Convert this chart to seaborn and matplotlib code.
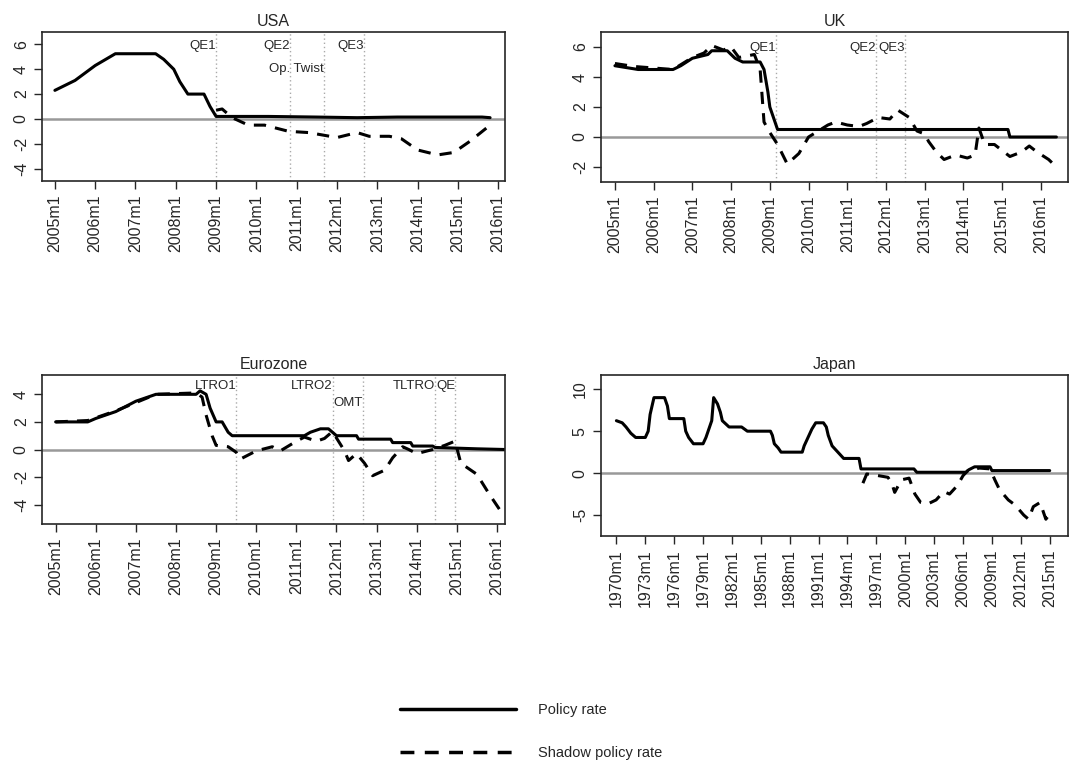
import matplotlib
matplotlib.use("Agg")
import matplotlib.pyplot as plt
import seaborn as sns
from matplotlib.lines import Line2D

# USA
usa_pol_t = [2005.0, 2005.5, 2006.0, 2006.5, 2007.0, 2007.5, 2007.7, 2007.95, 2008.1, 2008.3, 2008.7, 2008.85, 2009.0, 2010.3, 2011.5, 2012.5, 2013.5, 2015.6, 2015.8]
usa_pol_v = [2.3, 3.1, 4.3, 5.25, 5.25, 5.25, 4.8, 4.0, 3.0, 2.0, 2.0, 1.0, 0.2, 0.2, 0.15, 0.1, 0.15, 0.15, 0.1]
usa_sh_t = [2009.0, 2009.15, 2009.4, 2009.8, 2010.2, 2010.8, 2011.3, 2012.0, 2012.5, 2012.8, 2013.3, 2013.6, 2014.0, 2014.5, 2014.9, 2015.3, 2015.8]
usa_sh_v = [0.7, 0.8, 0.1, -0.5, -0.5, -1.0, -1.1, -1.5, -1.1, -1.4, -1.4, -1.6, -2.5, -2.9, -2.7, -1.8, -0.5]
usa_ev = [("QE1", 2009.0, 5.9), ("QE2", 2010.83, 5.9), ("Op. Twist", 2011.68, 4.0), ("QE3", 2012.67, 5.9)]

# UK
uk_pol_t = [2005.0, 2005.6, 2006.5, 2006.7, 2007.0, 2007.4, 2007.5, 2007.9, 2008.0, 2008.1, 2008.3, 2008.75, 2008.85, 2008.95, 2009.0, 2009.2, 2015.15, 2015.2, 2016.4]
uk_pol_v = [4.75, 4.5, 4.5, 4.75, 5.25, 5.5, 5.75, 5.75, 5.5, 5.25, 5.0, 5.0, 4.5, 3.0, 2.0, 0.5, 0.5, 0.0, 0.0]
uk_sh_t = [2005.0, 2005.5, 2006.5, 2007.0, 2007.3, 2007.5, 2007.8, 2008.0, 2008.2, 2008.6, 2008.75, 2008.85, 2009.0, 2009.2, 2009.45, 2009.75, 2010.0, 2010.5, 2010.7, 2011.0, 2011.3, 2011.5, 2011.8, 2012.1, 2012.3, 2012.6, 2012.8, 2013.0, 2013.1, 2013.3, 2013.5, 2013.8, 2014.1, 2014.3, 2014.4, 2014.55, 2014.8, 2015.2, 2015.5, 2015.7, 2015.9, 2016.2, 2016.4]
uk_sh_v = [4.9, 4.7, 4.5, 5.3, 5.6, 6.1, 5.8, 6.0, 5.3, 5.5, 4.5, 1.0, 0.3, -0.5, -1.8, -1.1, 0.0, 0.8, 1.0, 0.8, 0.7, 0.9, 1.3, 1.2, 1.8, 1.3, 0.4, 0.2, -0.3, -1.0, -1.5, -1.2, -1.4, -1.2, 0.6, -0.5, -0.5, -1.3, -1.0, -0.6, -1.0, -1.5, -2.0]
uk_ev = [("QE1", 2009.16, 5.9), ("QE2", 2011.73, 5.9), ("QE3", 2012.49, 5.9)]

# Eurozone
eu_pol_t = [2005.0, 2005.8, 2006.0, 2006.5, 2007.0, 2007.5, 2008.5, 2008.6, 2008.75, 2008.85, 2009.0, 2009.15, 2009.3, 2009.4, 2011.2, 2011.35, 2011.6, 2011.8, 2011.9, 2012.0, 2012.5, 2012.55, 2013.35, 2013.4, 2013.85, 2013.9, 2014.4, 2014.45, 2015.5, 2016.2]
eu_pol_v = [2.0, 2.0, 2.25, 2.75, 3.5, 4.0, 4.0, 4.25, 4.0, 3.0, 2.0, 2.0, 1.25, 1.0, 1.0, 1.25, 1.5, 1.5, 1.25, 1.0, 1.0, 0.75, 0.75, 0.5, 0.5, 0.25, 0.25, 0.15, 0.05, 0.0]
eu_sh_t = [2005.0, 2005.8, 2006.0, 2006.5, 2007.0, 2007.5, 2008.5, 2008.65, 2008.75, 2008.9, 2009.0, 2009.3, 2009.5, 2009.6, 2010.0, 2010.4, 2010.6, 2011.0, 2011.2, 2011.5, 2011.7, 2011.9, 2012.2, 2012.3, 2012.5, 2012.7, 2012.9, 2013.2, 2013.4, 2013.65, 2013.8, 2014.0, 2014.4, 2014.7, 2014.95, 2015.0, 2015.1, 2015.5, 2015.8, 2016.1]
eu_sh_v = [2.0, 2.1, 2.3, 2.8, 3.4, 4.0, 4.1, 3.8, 2.5, 1.0, 0.3, 0.2, -0.2, -0.7, -0.1, 0.2, -0.1, 0.6, 0.9, 0.6, 0.8, 1.3, -0.1, -0.8, -0.3, -1.0, -1.9, -1.5, -0.6, 0.2, 0.0, -0.3, 0.0, 0.3, 0.6, 0.1, -1.0, -1.8, -3.2, -4.5]
eu_ev = [("LTRO1", 2009.5, 4.6), ("LTRO2", 2011.91, 4.6), ("OMT", 2012.65, 3.4), ("TLTRO", 2014.45, 4.6), ("QE", 2014.96, 4.6)]

# Japan
jp_pol_t = [1970.0, 1970.6, 1971.0, 1971.5, 1972.0, 1973.0, 1973.3, 1973.5, 1973.9, 1975.0, 1975.3, 1975.5, 1977.0, 1977.2, 1977.5, 1978.0, 1979.0, 1979.3, 1979.6, 1979.9, 1980.1, 1980.5, 1980.8, 1981.0, 1981.7, 1983.0, 1983.6, 1986.0, 1986.2, 1986.4, 1986.8, 1987.1, 1989.3, 1989.5, 1989.9, 1990.3, 1990.7, 1991.5, 1991.8, 1992.0, 1992.4, 1993.0, 1993.6, 1995.2, 1995.4, 2000.9, 2001.2, 2006.3, 2006.6, 2007.2, 2008.8, 2009.0, 2015.0]
jp_pol_v = [6.25, 6.0, 5.5, 4.75, 4.25, 4.25, 5.0, 7.0, 9.0, 9.0, 8.0, 6.5, 6.5, 5.0, 4.25, 3.5, 3.5, 4.25, 5.25, 6.25, 9.0, 8.25, 7.25, 6.25, 5.5, 5.5, 5.0, 5.0, 4.5, 3.5, 3.0, 2.5, 2.5, 3.25, 4.25, 5.25, 6.0, 6.0, 5.5, 4.5, 3.25, 2.5, 1.75, 1.75, 0.5, 0.5, 0.1, 0.1, 0.4, 0.75, 0.75, 0.3, 0.3]
jp_sh_t = [1995.6, 1996.0, 1997.2, 1998.2, 1998.6, 1998.9, 1999.6, 2000.4, 2001.0, 2001.6, 2002.3, 2003.2, 2004.0, 2004.6, 2005.4, 2006.0, 2006.5, 2007.7, 2008.8, 2009.3, 2009.8, 2010.7, 2011.4, 2012.3, 2012.8, 2013.3, 2014.0, 2014.6, 2015.1]
jp_sh_v = [-1.2, -0.1, -0.3, -0.5, -1.2, -2.3, -0.8, -0.6, -2.5, -3.5, -3.7, -3.2, -2.2, -2.5, -1.5, -0.3, 0.3, 0.6, 0.5, -0.8, -2.0, -3.2, -3.8, -5.0, -5.5, -4.0, -3.5, -5.5, -4.7]

sns.set_style("ticks")
plt.rcParams["font.family"] = ["Liberation Sans", "DejaVu Sans"]

fig = plt.figure(figsize=(10.73, 7.64), dpi=100)
W, H = 1073, 764


def box(l, t, r, b):
    return [l / W, 1 - b / H, (r - l) / W, (b - t) / H]


def panel(rect, title, pol_t, pol_v, sh_t, sh_v, ticks, xlim, ylim, yticks, events):
    ax = fig.add_axes(box(*rect))
    ax.axhline(0, color="#999999", lw=1.8, zorder=1)
    for name, x, y in events:
        ax.axvline(x, color="#aaaaaa", lw=1, ls=(0, (1, 2)), zorder=1)
        ax.text(x, y, name, ha="right", va="center", fontsize=9.5)
    sns.lineplot(x=pol_t, y=pol_v, ax=ax, color="black", lw=2.2, sort=False, estimator=None)
    sns.lineplot(x=sh_t, y=sh_v, ax=ax, color="black", lw=2.2, ls=(0, (4, 3)), sort=False, estimator=None)
    ax.set_xlim(*xlim)
    ax.set_ylim(*ylim)
    ax.set_xticks(ticks)
    ax.set_xticklabels([f"{t}m1" for t in ticks], rotation=90, fontsize=11.5)
    ax.set_yticks(yticks)
    ax.set_yticklabels([str(v) for v in yticks], rotation=90, va="center", fontsize=11.5)
    ax.set_title(title, fontsize=11.5, pad=4)
    for s in ax.spines.values():
        s.set_linewidth(1.2)
    ax.tick_params(length=6, width=1)
    return ax


yrs = list(range(2005, 2017))
panel((42, 32, 505, 181), "USA", usa_pol_t, usa_pol_v, usa_sh_t, usa_sh_v, yrs,
      (2004.68, 2016.17), (-5, 7), [-4, -2, 0, 2, 4, 6], usa_ev)
panel((601, 32, 1068, 182), "UK", uk_pol_t, uk_pol_v, uk_sh_t, uk_sh_v, yrs,
      (2004.64, 2016.7), (-3, 7), [-2, 0, 2, 4, 6], uk_ev)
panel((42, 375, 505, 524), "Eurozone", eu_pol_t, eu_pol_v, eu_sh_t, eu_sh_v, yrs,
      (2004.66, 2016.2), (-5.4, 5.4), [-4, -2, 0, 2, 4], eu_ev)
panel((601, 375, 1068, 536), "Japan", jp_pol_t, jp_pol_v, jp_sh_t, jp_sh_v, list(range(1970, 2016, 3)),
      (1968.4, 2016.9), (-7.5, 11.7), [-5, 0, 5, 10], [])

handles = [Line2D([], [], color="black", lw=2.5),
           Line2D([], [], color="black", lw=2.5, ls=(0, (4, 3)))]
fig.legend(handles, ["Policy rate", "Shadow policy rate"], loc="center",
           bbox_to_anchor=(0.495, 0.042), frameon=False, handlelength=8,
           labelspacing=2.0, fontsize=10.5, handletextpad=1.5)

fig.savefig("out.png", dpi=100)
